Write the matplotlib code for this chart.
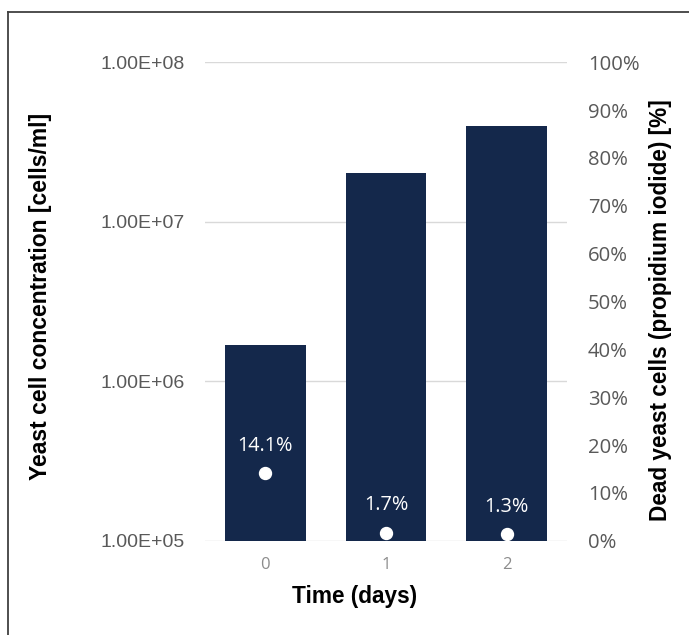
import matplotlib
matplotlib.use("Agg")
import matplotlib.pyplot as plt
from matplotlib.lines import Line2D
from matplotlib.ticker import FuncFormatter, FixedLocator, MultipleLocator

days = ["0", "1", "2"]
concentration = [1.69e6, 2.02e7, 3.98e7]
dead_pct = [0.141, 0.017, 0.013]
dead_labels = ["14.1%", "1.7%", "1.3%"]

W, H = 689, 635
fig = plt.figure(figsize=(W / 100, H / 100), dpi=100)
ax = fig.add_axes([205 / W, 1 - 540.7 / H, 362 / W, 478.4 / H])

x = list(range(len(days)))
ax.bar(x, concentration, width=0.67, color="#14284B", zorder=2, bottom=0)
ax.set_yscale("log")
ax.set_ylim(1e5, 1e8)
ax.set_xlim(-0.5, 2.5)
ax.yaxis.set_major_locator(FixedLocator([1e5, 1e6, 1e7, 1e8]))
ax.yaxis.set_minor_locator(FixedLocator([]))
ax.yaxis.set_major_formatter(FuncFormatter(lambda v, p: f"{v:.2E}"))
ax.grid(axis="y", color="#D9D9D9", linewidth=1.0, zorder=0)
ax.set_axisbelow(True)
ax.set_xticks(x)
ax.set_xticklabels(days)
for s in ax.spines.values():
    s.set_visible(False)
ax.tick_params(axis="y", length=0, pad=14.4, labelsize=14, labelcolor="#595959")
ax.tick_params(axis="x", length=0, pad=12, labelsize=12, labelcolor="#8C8C8C")
for lab in ax.get_yticklabels():
    lab.set_fontfamily("Liberation Sans")
for lab in ax.get_xticklabels():
    lab.set_fontfamily("Open Sans")

ax2 = ax.twinx()
ax2.set_ylim(0, 1)
ax2.yaxis.set_major_locator(MultipleLocator(0.1))
ax2.yaxis.set_major_formatter(FuncFormatter(lambda v, p: f"{v*100:.0f}%"))
for s in ax2.spines.values():
    s.set_visible(False)
ax2.tick_params(axis="y", length=0, pad=15, labelsize=14.6, labelcolor="#595959")
for lab in ax2.get_yticklabels():
    lab.set_fontfamily("Open Sans")
ax2.plot(x, dead_pct, linestyle="none", marker="o", markersize=8.6,
         color="white", zorder=3)
for xi, yi, t in zip(x, dead_pct, dead_labels):
    ax2.annotate(t, (xi, yi), xytext=(0, 19.5), textcoords="offset points",
                 ha="center", va="center", color="white", fontsize=14.3,
                 family="Open Sans")

fig.text(355 / W, 1 - 597 / H, "Time (days)", ha="center", va="center",
         fontsize=16.3, fontweight="bold", family="Liberation Sans")
fig.text(41 / W, 1 - 296 / H, "Yeast cell concentration [cells/ml]",
         rotation=90, ha="center", va="center", fontsize=16.5,
         fontweight="bold", family="Liberation Sans")
fig.text(660 / W, 1 - 310 / H, "Dead yeast cells (propidium iodide) [%]",
         rotation=90, ha="center", va="center", fontsize=16.3,
         fontweight="bold", family="Liberation Sans")

fig.add_artist(Line2D([7.5 / W, 7.5 / W], [0, 1 - 11.5 / H],
                      transform=fig.transFigure, color="#404040", linewidth=1.3))
fig.add_artist(Line2D([7.5 / W, 1], [1 - 11.5 / H, 1 - 11.5 / H],
                      transform=fig.transFigure, color="#404040", linewidth=1.3))

fig.savefig("out.png", dpi=100)
